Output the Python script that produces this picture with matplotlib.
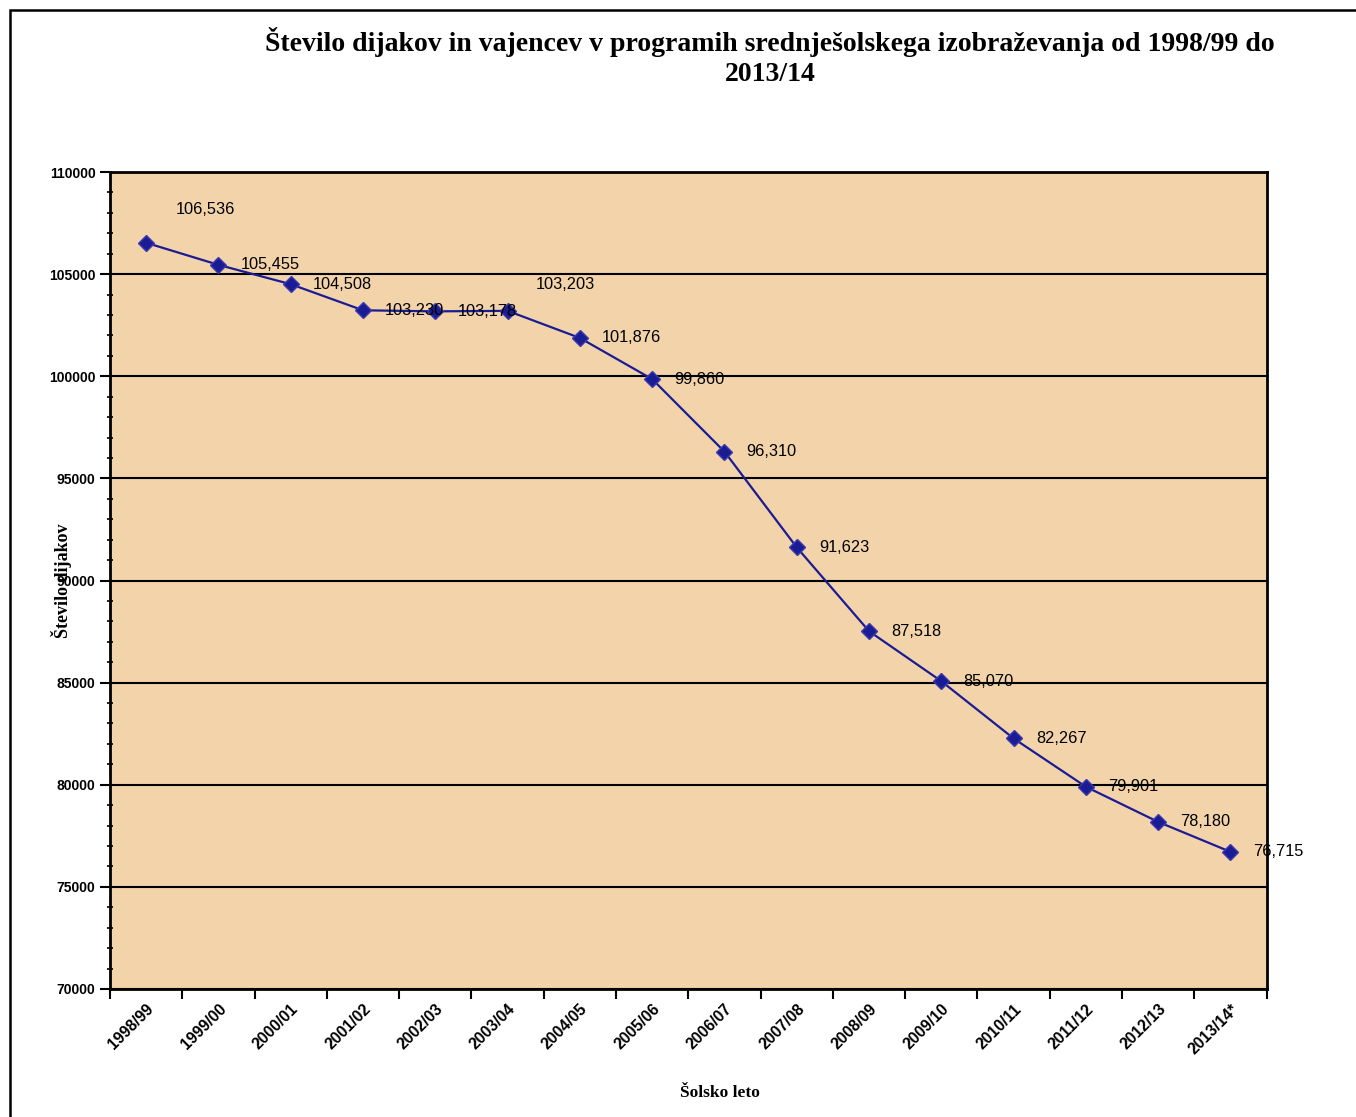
import matplotlib
matplotlib.use("Agg")
import matplotlib.pyplot as plt
from matplotlib.patches import Rectangle
from matplotlib.ticker import MultipleLocator, FixedLocator
import numpy as np

years = ["1998/99", "1999/00", "2000/01", "2001/02", "2002/03", "2003/04",
         "2004/05", "2005/06", "2006/07", "2007/08", "2008/09", "2009/10",
         "2010/11", "2011/12", "2012/13", "2013/14*"]
students = [106536, 105455, 104508, 103230, 103178, 103203, 101876, 99860,
            96310, 91623, 87518, 85070, 82267, 79901, 78180, 76715]

fig = plt.figure(figsize=(13.56, 11.17), dpi=100)
ax = fig.add_axes([0.0811, 0.1146, 0.853, 0.7314])

# outer chart frame (only top and left edge visible in the original)
fig.patches.append(Rectangle((0.0074, -0.2), 1.5, 0.991 + 0.2, transform=fig.transFigure,
                             fill=False, edgecolor="black", linewidth=1.8))

ax.set_facecolor("#F3D4AA")
x = np.arange(len(years))
ax.plot(x, students, color="#1B1B94", linewidth=1.6, marker="D", markersize=8,
        markerfacecolor="#1B1B94", markeredgecolor="#3A3AB0", zorder=3)

for i, v in enumerate(students):
    if i == 0:
        off = (21, 24)
    elif i == 5:
        off = (20, 19)
    else:
        off = (16, 0)
    ax.annotate(f"{v:,}", (x[i], v), xytext=off, textcoords="offset points",
                ha="left", va="center", fontsize=11.8, family="Liberation Sans", zorder=4)

ax.set_xlim(-0.5, len(years) - 0.5)
ax.set_ylim(70000, 110000)
ax.yaxis.set_major_locator(MultipleLocator(5000))
ax.yaxis.set_minor_locator(MultipleLocator(1000))
ax.grid(axis="y", which="major", color="black", linewidth=1.5)
ax.set_axisbelow(True)

ax.set_xticks(x)
ax.set_xticklabels(years, rotation=45, ha="right", rotation_mode="anchor",
                   fontsize=11.3, fontweight="bold", family="Liberation Sans")
ax.tick_params(axis="x", which="major", length=0, pad=9)
ax.xaxis.set_minor_locator(FixedLocator(np.arange(-0.5, len(years), 1.0)))
ax.tick_params(axis="x", which="minor", length=7, width=1.5, direction="out")

for lab in ax.get_yticklabels():
    lab.set_fontweight("bold")
    lab.set_family("Liberation Sans")
ax.tick_params(axis="y", which="major", labelsize=10, length=7, width=1.5, direction="out")
ax.tick_params(axis="y", which="minor", length=5, width=1.2, direction="inout")

for s in ax.spines.values():
    s.set_linewidth(2)

# as in the original, the axis title sits over the tick labels
ax.set_ylabel("Število dijakov", family="Liberation Serif", fontweight="bold", fontsize=13)
ax.yaxis.set_label_coords(-0.033, 0.5)
ax.set_xlabel("Šolsko leto", family="Liberation Serif", fontweight="bold", fontsize=12.5)
ax.xaxis.set_label_coords(0.527, -0.118)

fig.text(0.568, 0.962, "Število dijakov in vajencev v programih srednješolskega izobraževanja od 1998/99 do",
         ha="center", va="center", family="Liberation Serif", fontweight="bold", fontsize=20)
fig.text(0.568, 0.933, "2013/14", ha="center", va="center",
         family="Liberation Serif", fontweight="bold", fontsize=20)

fig.savefig("out.png", dpi=100)
